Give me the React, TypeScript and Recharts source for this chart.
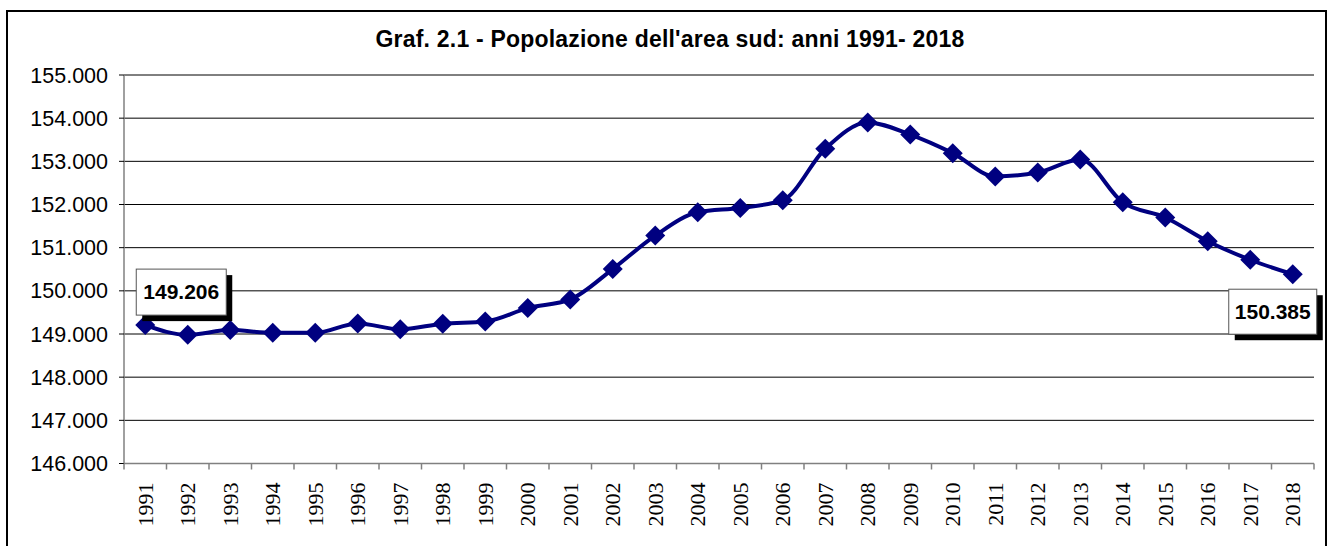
import { CartesianGrid, LabelList, Line, LineChart, XAxis, YAxis } from 'recharts';

const years = [
  '1991', '1992', '1993', '1994', '1995', '1996', '1997', '1998', '1999', '2000',
  '2001', '2002', '2003', '2004', '2005', '2006', '2007', '2008', '2009', '2010',
  '2011', '2012', '2013', '2014', '2015', '2016', '2017', '2018',
];

const population = [
  149206, 148980, 149090, 149030, 149030, 149245, 149110, 149240, 149290, 149600,
  149800, 150505, 151280, 151820, 151920, 152100, 153290, 153900, 153620, 153190,
  152650, 152740, 153040, 152050, 151700, 151150, 150720, 150385,
];

const yTicks = [146000, 147000, 148000, 149000, 150000, 151000, 152000, 153000, 154000, 155000];

const data = years.map((year, i) => ({ idx: i + 1, year, value: population[i] }));

// label ticks at category centres, short marks at the boundaries between them
const xTicks: number[] = [];
for (let i = 0; i <= years.length; i++) {
  xTicks.push(i + 0.5);
  if (i < years.length) xTicks.push(i + 1);
}

const NAVY = '#000080';
const SANS = '"Liberation Sans", Arial, sans-serif';

function formatIt(v: number): string {
  const s = Math.round(v).toString();
  return s.replace(/\B(?=(\d{3})+(?!\d))/g, '.');
}

function Diamond(props: any) {
  const { cx, cy } = props;
  if (cx == null || cy == null) return null;
  const r = 10;
  return (
    <polygon
      points={`${cx},${cy - r} ${cx + r},${cy} ${cx},${cy + r} ${cx - r},${cy}`}
      fill={NAVY}
    />
  );
}

function YearTick(props: any) {
  const { x, y, payload } = props;
  const v = payload.value as number;
  if (!Number.isInteger(v)) {
    return <line x1={x} y1={y} x2={x} y2={y + 6} stroke="#808080" strokeWidth={1.5} />;
  }
  const label = years[v - 1];
  const y0 = y + 19;
  return (
    <text
      x={x}
      y={y0}
      dy="0.35em"
      transform={`rotate(-90, ${x}, ${y0})`}
      textAnchor="end"
      fontFamily='"Liberation Serif", "Times New Roman", serif'
      fontSize={22}
      fill="#000"
    >
      {label}
    </text>
  );
}

function EndLabel(props: any) {
  const { x, y, value, index } = props;
  const last = population.length - 1;
  if (index !== 0 && index !== last) return null;
  const box = index === 0
    ? { left: x - 9, top: y - 56, w: 90, h: 46 }
    : { left: x - 64, top: y + 15, w: 88, h: 45 };
  return (
    <g>
      <rect x={box.left + 6} y={box.top + 6} width={box.w} height={box.h} fill="#000" />
      <rect x={box.left} y={box.top} width={box.w} height={box.h} fill="#fff" stroke="#555" strokeWidth={1} />
      <text
        x={box.left + box.w / 2}
        y={box.top + box.h / 2}
        dy="0.33em"
        textAnchor="middle"
        fontFamily={SANS}
        fontWeight="bold"
        fontSize={21}
        fill="#000"
      >
        {formatIt(value)}
      </text>
    </g>
  );
}

export default function App() {
  return (
    <div style={{ position: 'absolute', left: 0, top: 0, width: 1336, height: 546, overflow: 'hidden', background: '#fff' }}>
      <div
        style={{
          position: 'absolute',
          left: 6,
          top: 10,
          width: 1321,
          height: 560,
          border: '2px solid #000',
          boxSizing: 'border-box',
        }}
      />
      <div
        style={{
          position: 'absolute',
          left: 0,
          top: 26,
          width: 1340,
          textAlign: 'center',
          fontFamily: SANS,
          fontWeight: 'bold',
          fontSize: 23,
          letterSpacing: 0.2,
          color: '#000',
        }}
      >
        Graf. 2.1 - Popolazione dell'area sud: anni 1991- 2018
      </div>
      <div style={{ position: 'absolute', left: 0, top: 0 }}>
        <LineChart width={1336} height={546} data={data} margin={{ top: 75, right: 22, bottom: 0, left: 0 }}>
          <CartesianGrid vertical={false} stroke="#000" strokeWidth={1} />
          <YAxis
            domain={[146000, 155000]}
            ticks={yTicks}
            tickFormatter={formatIt}
            width={124}
            tickSize={5}
            tickMargin={11}
            axisLine={{ stroke: '#808080', strokeWidth: 1.5 }}
            tickLine={{ stroke: '#000' }}
            tick={{ fontFamily: SANS, fontSize: 21.5, fill: '#000' }}
            interval={0}
          />
          <XAxis
            dataKey="idx"
            type="number"
            domain={[0.5, years.length + 0.5]}
            ticks={xTicks}
            interval={0}
            height={82.5}
            tickSize={0}
            tickMargin={0}
            tickLine={false}
            axisLine={{ stroke: '#808080', strokeWidth: 1.5 }}
            tick={<YearTick />}
            allowDecimals
          />
          <Line
            type="monotone"
            dataKey="value"
            stroke={NAVY}
            strokeWidth={4}
            dot={<Diamond />}
            activeDot={false}
            isAnimationActive={false}
          >
            <LabelList dataKey="value" content={<EndLabel />} />
          </Line>
        </LineChart>
      </div>
    </div>
  );
}
